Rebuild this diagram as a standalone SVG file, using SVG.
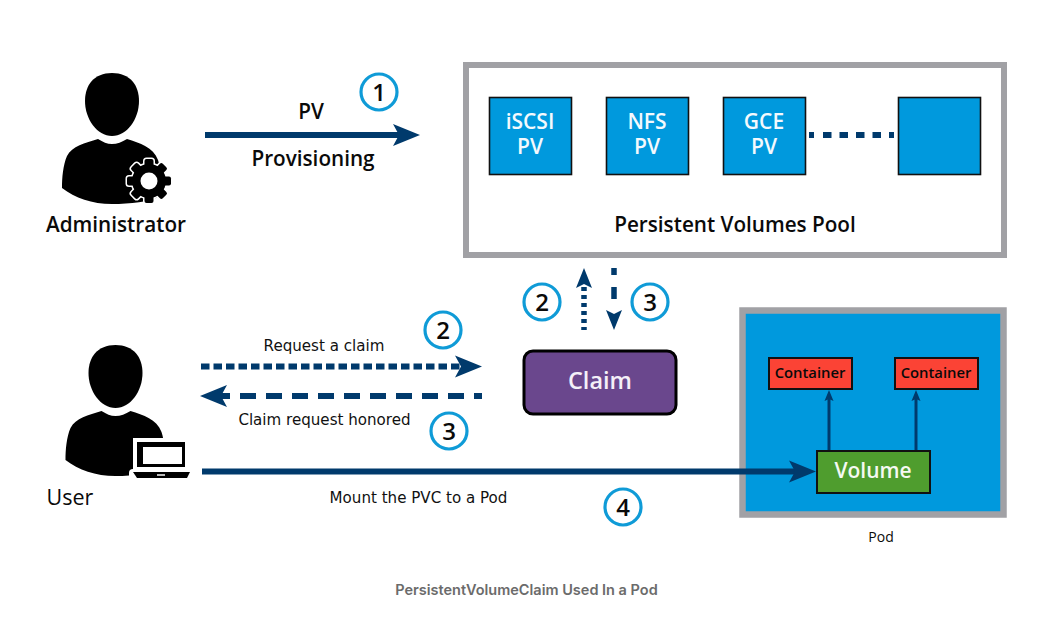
<svg xmlns="http://www.w3.org/2000/svg" xmlns:xlink="http://www.w3.org/1999/xlink" width="1038" height="627" viewBox="0 0 1038 627">
<style>
text{font-family:"Open Sans","Noto Sans","Liberation Sans",sans-serif;text-anchor:middle;fill:#0a0a0a}
.lbl{font-size:20.700px;font-weight:600}
.pvt{font-size:21px;font-weight:600;fill:#f4f9fd}
.ver{font-family:"DejaVu Sans","Liberation Sans",sans-serif;font-size:15.100px;fill:#111}
.num{font-size:24px;font-weight:600}
.ring{fill:#fff;stroke:#0f9bd7;stroke-width:3.2}
.pv{fill:#0099dd;stroke:#111;stroke-width:1.6}
.ct{fill:#fb4335;stroke:#111;stroke-width:2}
.ctt{font-size:14.800px;font-weight:600}
.ln{fill:none;stroke:#003a6c}
</style>
<defs>
<marker id="hl" markerUnits="userSpaceOnUse" markerWidth="30" markerHeight="26" refX="6" refY="12" orient="auto"><path d="M0,1 L27,12 L0,23 L6,12Z" fill="#003a6c"/></marker>
<marker id="hm" markerUnits="userSpaceOnUse" markerWidth="24" markerHeight="20" refX="4" refY="9" orient="auto"><path d="M0,1 L20,9 L0,17 L4,9Z" fill="#003a6c"/></marker>
<marker id="hs" markerUnits="userSpaceOnUse" markerWidth="14" markerHeight="12" refX="2" refY="5.500" orient="auto"><path d="M0,1 L11,5.500 L0,10 L2,5.500Z" fill="#003a6c"/></marker>
<g id="person">
<path d="M112,73 C130,73 139,85 139,101 C139,119 127,136 112,136 C97,136 85,119 85,101 C85,85 94,73 112,73Z"/>
<path d="M98,139 C103,142 107,144 112,144 C117,144 122,142 127,139 C140,143 153,147 158,160 C161,168 162,185 160,196 C150,202 130,204 112,204 C92,204 75,198 62,188 C62,178 63,165 67,156 C72,146 85,143 98,139Z"/>
</g>
<g id="gearShape">
<circle r="17"/>
<rect x="-4.500" y="-22" width="9" height="44" rx="2"/>
<rect x="-4.500" y="-22" width="9" height="44" rx="2" transform="rotate(45)"/>
<rect x="-4.500" y="-22" width="9" height="44" rx="2" transform="rotate(90)"/>
<rect x="-4.500" y="-22" width="9" height="44" rx="2" transform="rotate(135)"/>
</g>
</defs>
<rect width="1038" height="627" fill="#fff"/>

<g id="administrator">
<use xlink:href="#person" href="#person"/>
<g transform="translate(149,181)">
<use xlink:href="#gearShape" href="#gearShape" fill="#fff" stroke="#fff" stroke-width="3"/>
<use xlink:href="#gearShape" href="#gearShape" fill="#000"/>
<circle r="8.500" fill="#fff"/>
</g>
<text class="lbl" x="116" y="232">Administrator</text>
</g>

<g id="user">
<use xlink:href="#person" href="#person" transform="translate(3.500,272)"/>
<rect x="133" y="438" width="57" height="34" fill="#fff"/>
<rect x="129" y="469" width="64" height="12" rx="4" fill="#fff"/>
<rect x="137" y="442" width="48" height="25" fill="#000"/>
<rect x="143" y="447" width="39" height="17" fill="#fff"/>
<path d="M133,472 H190 L187,478 H137Z" fill="#000"/>
<rect x="157" y="474" width="8" height="2" fill="#bbb"/>
<text class="lbl" x="70" y="505" style="font-size:21.500px;font-weight:400">User</text>
</g>

<g id="pv-label"><text class="lbl" x="311" y="119">PV</text><text class="lbl" x="313" y="166">Provisioning</text></g>

<g id="persistent-volumes-pool">
<rect x="466" y="65" width="538" height="190" fill="#fff" stroke="#a1a1a5" stroke-width="6"/>
<text class="lbl" x="735" y="232">Persistent Volumes Pool</text>
</g>
<g id="pv-iscsi"><rect class="pv" x="489.500" y="97.500" width="82" height="77"/><text class="pvt"><tspan x="530" y="129">iSCSI</tspan><tspan x="530" y="154">PV</tspan></text></g>
<g id="pv-nfs"><rect class="pv" x="606.500" y="97.500" width="82" height="77"/><text class="pvt"><tspan x="647" y="129">NFS</tspan><tspan x="647" y="154">PV</tspan></text></g>
<g id="pv-gce"><rect class="pv" x="723.500" y="97.500" width="82" height="77"/><text class="pvt"><tspan x="764" y="129">GCE</tspan><tspan x="764" y="154">PV</tspan></text></g>
<g id="pv-blank"><rect class="pv" x="898.500" y="97.500" width="82" height="77"/></g>

<g id="claim">
<rect x="524" y="351" width="152" height="63" rx="9" fill="#6a478d" stroke="#000" stroke-width="3"/>
<text x="600" y="389" style="font-size:23.500px;font-weight:600;fill:#f4f0f8">Claim</text>
</g>

<g id="pod">
<rect x="742.500" y="310.500" width="261" height="204" fill="#0099dd" stroke="#a1a1a5" stroke-width="6.500"/>
<text x="881" y="542" style="font-size:14px">Pod</text>
</g>
<g id="container-1"><rect class="ct" x="769" y="358" width="83" height="31"/><text class="ctt" x="810" y="378">Container</text></g>
<g id="container-2"><rect class="ct" x="895" y="358" width="83" height="31"/><text class="ctt" x="936" y="378">Container</text></g>

<g id="connectors">
<line class="ln" x1="205" y1="135" x2="399" y2="135" stroke-width="6" marker-end="url(#hl)"/>
<line class="ln" x1="201" y1="366.500" x2="461" y2="366.500" stroke-width="6" stroke-dasharray="8.500 4" marker-end="url(#hl)"/>
<line class="ln" x1="482" y1="396" x2="221" y2="396" stroke-width="6" stroke-dasharray="8 10 16 10 16 10 16 10 16 10 16 10 16 10 16 10 16 10 16 10 16 10" marker-end="url(#hl)"/>
<line class="ln" x1="202" y1="471.500" x2="795" y2="471.500" stroke-width="6" marker-end="url(#hl)"/>
<line class="ln" x1="584" y1="330" x2="584" y2="284" stroke-width="5.500" stroke-dasharray="3 4 4 4 4 4 4 4 4 4 4 4" marker-end="url(#hm)"/>
<line class="ln" x1="614" y1="268" x2="614" y2="314" stroke-width="5.500" stroke-dasharray="7 12 12 20" marker-end="url(#hm)"/>
<line class="ln" x1="809" y1="135" x2="894" y2="135" stroke-width="6" stroke-dasharray="5 9 8.500 8 8.500 8 8.500 8 8.500 8 5"/>
<line class="ln" x1="829" y1="450" x2="829" y2="399" stroke-width="3" marker-end="url(#hs)"/>
<line class="ln" x1="916" y1="450" x2="916" y2="399" stroke-width="3" marker-end="url(#hs)"/>
</g>

<g id="volume"><rect x="817" y="451" width="113" height="42" fill="#4f9d2e" stroke="#111" stroke-width="2"/><text x="873" y="478" style="font-size:21px;font-weight:600;fill:#f5f9f2">Volume</text></g>

<g id="step-labels">
<text class="ver" x="324" y="351">Request a claim</text>
<text class="ver" x="324.500" y="425">Claim request honored</text>
<text class="ver" x="418.500" y="503">Mount the PVC to a Pod</text>
</g>

<g id="badges">
<g id="badge-1"><circle class="ring" cx="379" cy="92" r="18"/><text class="num" x="379" y="101">1</text></g>
<g id="badge-2a"><circle class="ring" cx="443" cy="330" r="18"/><text class="num" x="443" y="339">2</text></g>
<g id="badge-3a"><circle class="ring" cx="449" cy="431" r="18"/><text class="num" x="449" y="440">3</text></g>
<g id="badge-2b"><circle class="ring" cx="542" cy="302" r="18"/><text class="num" x="542" y="311">2</text></g>
<g id="badge-3b"><circle class="ring" cx="650" cy="302" r="18"/><text class="num" x="650" y="311">3</text></g>
<g id="badge-4"><circle class="ring" cx="623" cy="507" r="18"/><text class="num" x="623" y="516">4</text></g>
</g>

<text x="526.500" y="595" style="font-family:Inter,'Liberation Sans',sans-serif;font-size:14.500px;font-weight:600;fill:#6b6b6b">PersistentVolumeClaim Used In a Pod</text>
</svg>
